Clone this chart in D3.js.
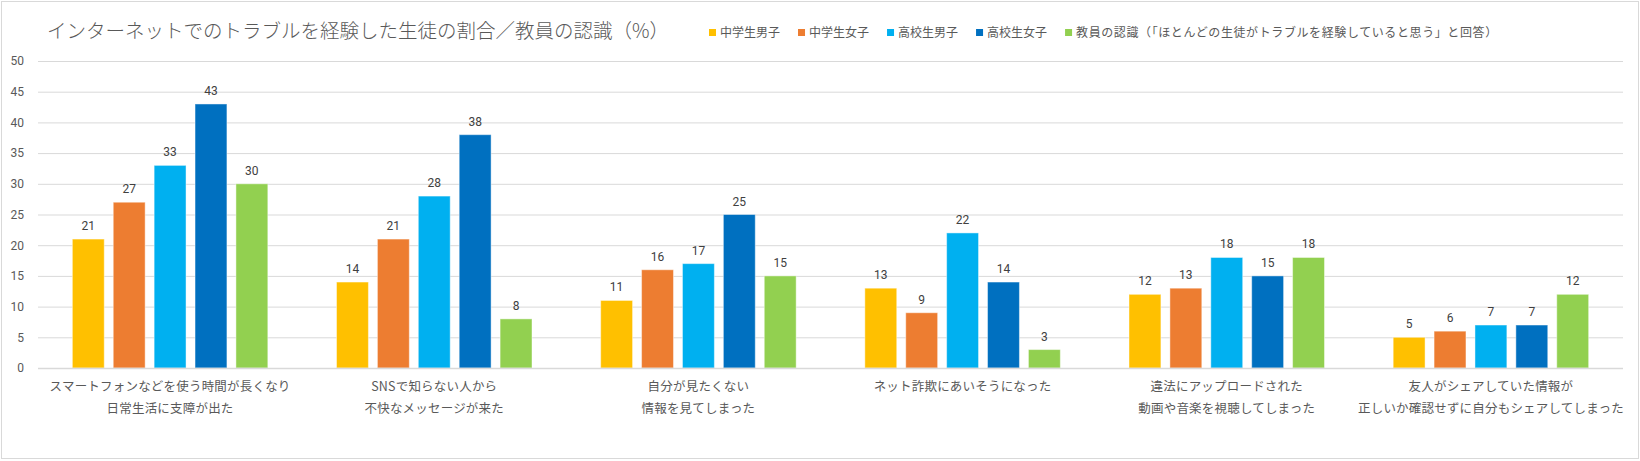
<!DOCTYPE html>
<html>
<head>
<meta charset="utf-8">
<script src="https://cdn.jsdelivr.net/npm/d3@7/dist/d3.min.js"></script>
<style>
  html, body { margin: 0; padding: 0; background: #fff; }
  svg { display: block; font-family: "Noto Sans CJK JP", "Noto Sans", sans-serif; }
</style>
</head>
<body>
<svg id="chart" width="1640" height="461"></svg>
<script>
const title = "インターネットでのトラブルを経験した生徒の割合／教員の認識（%）";
const categories = [
  ["スマートフォンなどを使う時間が長くなり", "日常生活に支障が出た"],
  ["SNSで知らない人から", "不快なメッセージが来た"],
  ["自分が見たくない", "情報を見てしまった"],
  ["ネット詐欺にあいそうになった"],
  ["違法にアップロードされた", "動画や音楽を視聴してしまった"],
  ["友人がシェアしていた情報が", "正しいか確認せずに自分もシェアしてしまった"]
];
const seriesNames = ["中学生男子", "中学生女子", "高校生男子", "高校生女子", "教員の認識（「ほとんどの生徒がトラブルを経験していると思う」と回答）"];
const seriesColors = ["#FFC000", "#ED7D31", "#00B0F0", "#0070C0", "#92D050"];
const chuMale   = [21, 14, 11, 13, 12, 5];
const chuFemale = [27, 21, 16, 9, 13, 6];
const kouMale   = [33, 28, 17, 22, 18, 7];
const kouFemale = [43, 38, 25, 14, 15, 7];
const teacher   = [30, 8, 15, 3, 18, 12];
const yTicks = [0, 5, 10, 15, 20, 25, 30, 35, 40, 45, 50];

const seriesValues = [chuMale, chuFemale, kouMale, kouFemale, teacher];

(function () {
const svg = d3.select("#chart");
const W = 1640, H = 461;

// frame
svg.append("rect").attr("x", 1.5).attr("y", 1.5).attr("width", W - 3).attr("height", H - 4)
  .attr("fill", "#fff").attr("stroke", "#d9d9d9").attr("stroke-width", 1);

const pLeft = 38, pRight = 1623, pTop = 61, pBottom = 368;

const x0 = d3.scaleBand().domain(d3.range(categories.length)).range([pLeft, pRight])
  .paddingInner(0.26).paddingOuter(0.13);
const x1 = d3.scaleBand().domain(d3.range(seriesNames.length)).range([0, x0.bandwidth()])
  .paddingInner(0.22).paddingOuter(0);
const y = d3.scaleLinear().domain([0, 50]).range([pBottom, pTop]);

// gridlines
const yAxis = d3.axisLeft(y).tickValues(yTicks).tickSize(-(pRight - pLeft)).tickPadding(14);
const gAxis = svg.append("g").attr("transform", `translate(${pLeft},0)`).call(yAxis);
gAxis.select(".domain").remove();
gAxis.selectAll(".tick line").attr("stroke", "#d9d9d9").attr("stroke-width", 1);
gAxis.selectAll(".tick text").attr("fill", "#595959").attr("font-size", 12)
  .attr("font-family", "Roboto, 'Noto Sans', sans-serif");

// bars
const groups = svg.append("g").selectAll("g").data(categories).join("g")
  .attr("transform", (d, i) => `translate(${x0(i)},0)`);

groups.each(function (d, ci) {
  const g = d3.select(this);
  seriesValues.forEach((vals, si) => {
    const v = vals[ci];
    g.append("rect")
      .attr("x", x1(si)).attr("width", x1.bandwidth())
      .attr("y", y(v)).attr("height", y(0) - y(v))
      .attr("fill", seriesColors[si])
      .attr("stroke", "#ffffff").attr("stroke-opacity", 0.45).attr("stroke-width", 1);
    g.append("text")
      .attr("x", x1(si) + x1.bandwidth() / 2).attr("y", y(v) - 9)
      .attr("text-anchor", "middle").attr("fill", "#404040")
      .attr("font-size", 12).attr("font-family", "Roboto, 'Noto Sans', sans-serif")
      .text(v);
  });
});

// baseline
svg.append("line").attr("x1", pLeft).attr("x2", pRight).attr("y1", y(0) + 0.5).attr("y2", y(0) + 0.5)
  .attr("stroke", "#d9d9d9").attr("stroke-width", 1.5);

// category labels
categories.forEach((lines, ci) => {
  const cx = x0(ci) + x0.bandwidth() / 2;
  const t = svg.append("text").attr("text-anchor", "middle").attr("fill", "#595959")
    .attr("font-size", 12.5).attr("letter-spacing", 0.2);
  lines.forEach((ln, li) => {
    t.append("tspan").attr("x", cx).attr("y", 391 + li * 21.5).text(ln);
  });
});

// title
svg.append("text").attr("x", 47).attr("y", 38).attr("fill", "#595959")
  .attr("font-size", 19.5).attr("font-weight", 300).text(title);

// legend
const legend = svg.append("g");
let lx = 709;
seriesNames.forEach((name, i) => {
  legend.append("rect").attr("x", lx).attr("y", 29).attr("width", 7).attr("height", 7)
    .attr("fill", seriesColors[i]);
  const t = legend.append("text").attr("x", lx + 11).attr("y", 36.5).attr("fill", "#595959")
    .attr("font-size", 12).attr("letter-spacing", i === seriesNames.length - 1 ? 0.6 : 0)
    .text(name);
  const w = t.node().getComputedTextLength();
  lx = lx + 11 + w + 18;
});
})();
</script>
</body>
</html>
